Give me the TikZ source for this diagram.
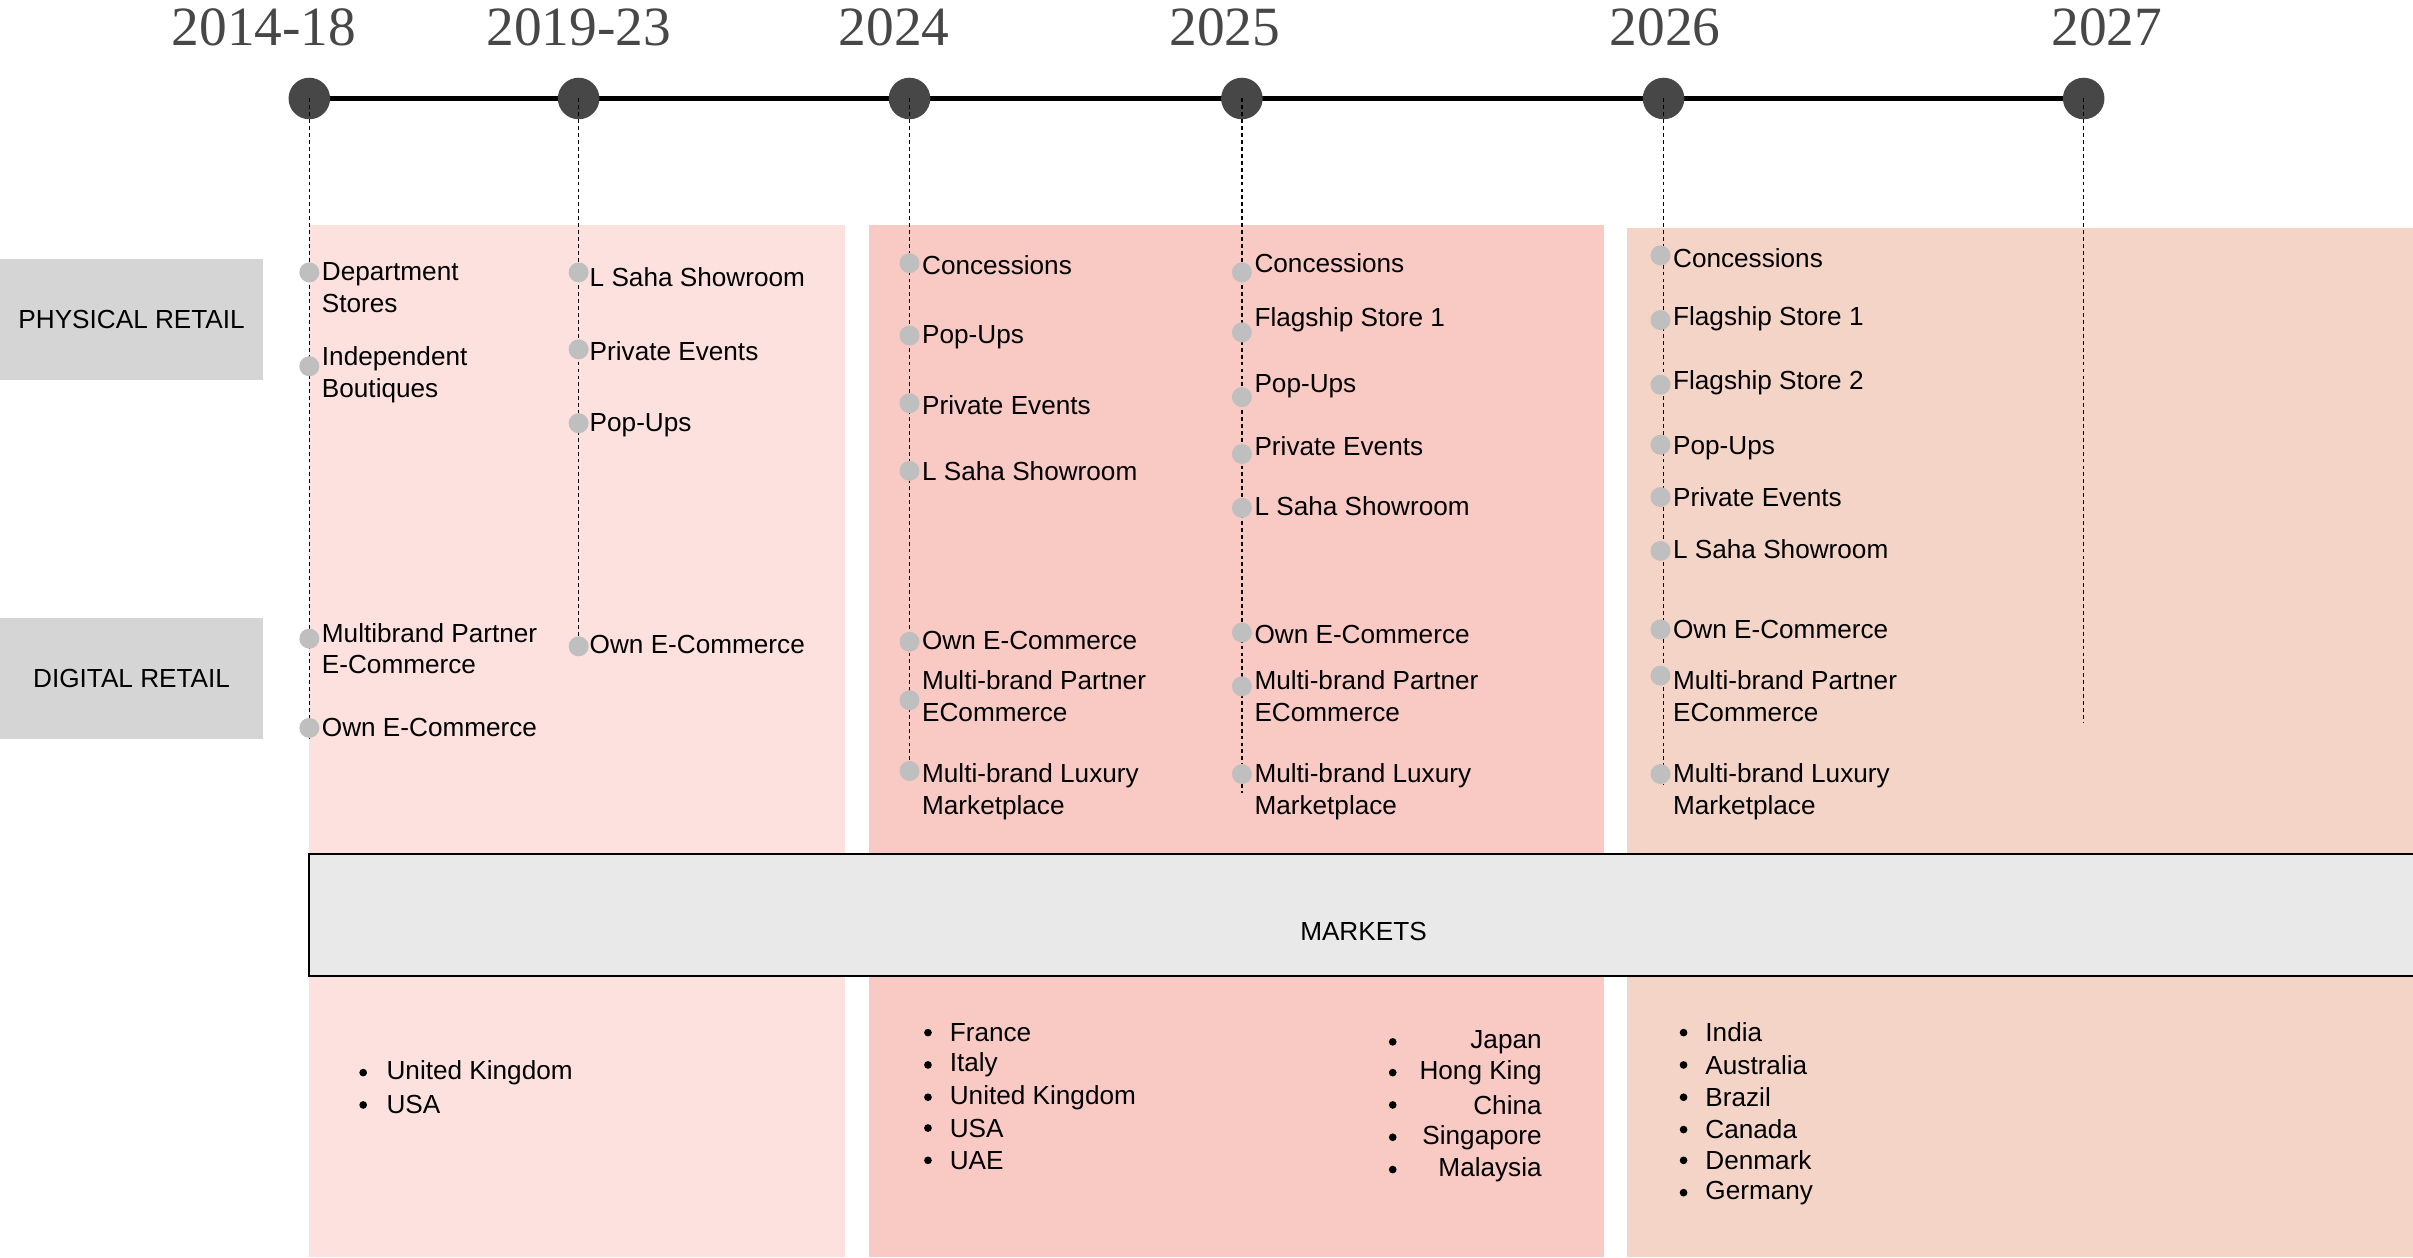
\documentclass[tikz,border=0pt]{standalone}
\usepackage{fontspec}
\setmainfont{Liberation Sans}
\newfontfamily\yearfont{Liberation Serif}
\usetikzlibrary{backgrounds}

\definecolor{pinkA}{HTML}{FDE1DE}
\definecolor{pinkB}{HTML}{F9CAC4}
\definecolor{peach}{HTML}{F4D4C7}
\definecolor{labelgray}{HTML}{D5D5D5}
\definecolor{bandgray}{HTML}{E9E9E9}
\definecolor{dotgray}{HTML}{BFBFBF}
\definecolor{yeargray}{HTML}{474747}

\tikzset{
  year/.style={font=\yearfont\fontsize{36}{40}\selectfont, text=yeargray},
  milestone/.style={circle, fill=yeargray, minimum size=27pt, inner sep=0pt},
  guide/.style={line width=1pt, dash pattern=on 2.5pt off 2pt, black},
  channel/.style={fill=labelgray, minimum width=171pt, minimum height=79pt, inner sep=0pt},
  item/.style={anchor=west, align=left, inner sep=0pt},
  blob/.style={circle, fill=dotgray, minimum size=13pt, inner sep=0pt},
  bul/.style={circle, fill=black, minimum size=5pt, inner sep=0pt}
}

\begin{document}
\begin{tikzpicture}[x=1pt, y=-1pt, font=\fontsize{17}{20.7}\selectfont]
    \useasboundingbox (0,0) rectangle (1568,817);

    % period panels
    \fill[pinkA] (201,146) rectangle (549,817);
    \fill[pinkB] (565,146) rectangle (1042,817);
    \fill[peach] (1057,148) rectangle (1568,817);

    % channel labels
    \node[channel] (physical) at (85.5,207.5) {PHYSICAL RETAIL};
    \node[channel] (digital) at (85.5,441) {DIGITAL RETAIL};

    % markets band
    \draw[fill=bandgray, line width=1.5pt] (201,555) rectangle (1580,634);
    \node (markets) at (886,605) {MARKETS};

    % timeline
    \foreach \n/\x/\gy in {1/201/480, 2/376/420, 3/591/505, 4/807/515, 5/1081/510, 6/1354/470} {
        \node[milestone] (t\n) at (\x,64) {};
        \coordinate (g\n) at (\x,\gy);
        \draw[guide] (t\n.center) -- (g\n);
    }
    \begin{scope}[on background layer]
        \draw[line width=3pt] (t1.center) -- (t6.center);
    \end{scope}

    \node[year] (y1) at (171.5,18) {2014-18};
    \node[year] (y2) at (376,18) {2019-23};
    \node[year] (y3) at (581,18) {2024};
    \node[year] (y4) at (796,18) {2025};
    \node[year] (y5) at (1082,18) {2026};
    \node[year] (y6) at (1369,18) {2027};

    % channel items: dot y / text y / text
    \foreach \dy/\ty/\txt in {177/187/{Department\\Stores}, 238/243.5/{Independent\\Boutiques},
        415/421.5/{Multibrand Partner\\E-Commerce}, 473/473/{Own E-Commerce}} {
        \node[blob] (a\dy) at (201,\dy) {};
        \node[item] (at\dy) at (209,\ty) {\txt};
    }
    \foreach \dy/\ty/\txt in {177/180/{L Saha Showroom}, 227/228/{Private Events},
        275/276/{Pop-Ups}, 420/419/{Own E-Commerce}} {
        \node[blob] (b\dy) at (376,\dy) {};
        \node[item] (bt\dy) at (383,\ty) {\txt};
    }
    \foreach \dy/\ty/\txt in {171/172/{Concessions}, 218/219/{Pop-Ups}, 262/263/{Private Events},
        306/306/{L Saha Showroom}, 417/416/{Own E-Commerce},
        455/452.5/{Multi-brand Partner\\ECommerce}, 501/514.5/{Multi-brand Luxury\\Marketplace}} {
        \node[blob] (c\dy) at (591,\dy) {};
        \node[item] (ct\dy) at (599,\ty) {\txt};
    }
    \foreach \dy/\ty/\txt in {177/171/{Concessions}, 216/208/{Flagship Store 1}, 258/251/{Pop-Ups},
        295/290/{Private Events}, 330/329/{L Saha Showroom}, 411/412/{Own E-Commerce},
        446/452.5/{Multi-brand Partner\\ECommerce}, 503/514.5/{Multi-brand Luxury\\Marketplace}} {
        \node[blob] (d\dy) at (807,\dy) {};
        \node[item] (dt\dy) at (815,\ty) {\txt};
    }
    \foreach \dy/\ty/\txt in {166/168/{Concessions}, 208/207/{Flagship Store 1}, 250/249/{Flagship Store 2},
        289/291/{Pop-Ups}, 323/323/{Private Events}, 358/357/{L Saha Showroom}, 409/409/{Own E-Commerce},
        439/452.5/{Multi-brand Partner\\ECommerce}, 503/514.5/{Multi-brand Luxury\\Marketplace}} {
        \node[blob] (e\dy) at (1079,\dy) {};
        \node[item] (et\dy) at (1087,\ty) {\txt};
    }

    % market lists
    \foreach \y/\txt in {697/United Kingdom, 718/USA} {
        \node[bul] (ma\y) at (236,\y) {};
        \node[item] (mat\y) at (251,\y) {\txt};
    }
    \foreach \y/\txt in {671/France, 692/Italy, 713/United Kingdom, 733/USA, 754/UAE} {
        \node[bul] (mb\y) at (603,\y) {};
        \node[item] (mbt\y) at (617,\y) {\txt};
    }
    \foreach \y/\txt in {677/Japan, 697/Hong King, 718/China, 739/Singapore, 760/Malaysia} {
        \node[bul] (mc\y) at (905,\y) {};
        \node[item, anchor=east] (mct\y) at (1002,\y) {\txt};
    }
    \foreach \y/\txt in {671/India, 692/Australia, 713/Brazil, 734/Canada, 754/Denmark, 775/Germany} {
        \node[bul] (md\y) at (1094,\y) {};
        \node[item] (mdt\y) at (1108,\y) {\txt};
    }
\end{tikzpicture}
\end{document}
